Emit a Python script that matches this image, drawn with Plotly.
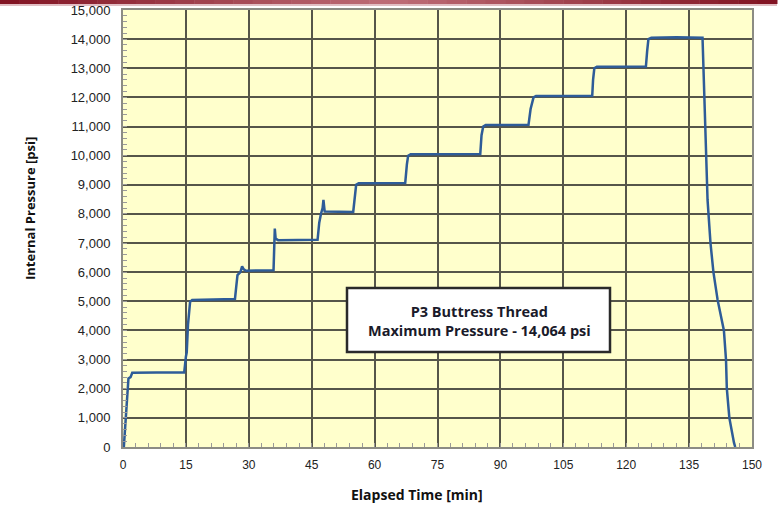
import plotly.graph_objects as go

# ---- data ----
time_min = [0.2, 0.6, 1.0, 1.3, 1.8, 2.2, 8.0, 14.6,
            15.0, 15.2, 15.5, 16.0, 16.5, 22.0, 26.7,
            27.0, 27.3, 28.0, 28.4, 28.8, 29.3, 35.9,
            36.1, 36.2, 36.4, 37.0, 46.4,
            46.8, 47.2, 47.6, 47.8, 48.1, 54.9,
            55.3, 55.6, 56.2, 67.3,
            67.7, 68.0, 68.6, 85.2,
            85.5, 85.9, 86.5, 96.7,
            97.2, 97.9, 98.5, 111.9,
            112.1, 112.4, 113.0, 124.7,
            125.0, 125.3, 126.0, 132.0, 138.2,
            138.6, 139.0, 139.4, 140.1, 140.8, 141.8, 142.6, 143.3,
            143.8, 144.0, 144.6, 145.2, 145.7, 146.0]
pressure_psi = [0, 1000, 2000, 2350, 2400, 2550, 2560, 2560,
                3100, 3250, 4200, 4980, 5050, 5070, 5080,
                5500, 5900, 6000, 6200, 6100, 6050, 6070,
                6800, 7500, 7150, 7100, 7110,
                7700, 8000, 8200, 8480, 8080, 8070,
                8700, 9000, 9050, 9060,
                9700, 10000, 10050, 10060,
                10700, 11000, 11050, 11060,
                11600, 12000, 12050, 12060,
                12600, 13000, 13050, 13060,
                13600, 14000, 14050, 14064, 14050,
                12000, 10000, 8480, 7000, 6000, 5050, 4500, 4000,
                3000, 2000, 1000, 500, 150, 0]

x_ticks = [0, 15, 30, 45, 60, 75, 90, 105, 120, 135, 150]
y_ticks = list(range(0, 15001, 1000))
y_tick_labels = [f"{v:,}" for v in y_ticks]

title_x = "Elapsed Time [min]"
title_y = "Internal Pressure [psi]"
box_text = "P3 Buttress Thread<br>Maximum Pressure - 14,064 psi"

# ---- figure ----
fig = go.Figure()
fig.add_trace(go.Scatter(x=time_min, y=pressure_psi, mode="lines",
                         line=dict(color="#2e5c98", width=2.5),
                         showlegend=False, hoverinfo="skip"))

grid_col = "#56564a"
frame_col = "#8c8c84"

fig.update_xaxes(range=[0, 150], tickvals=x_ticks, ticktext=[str(v) for v in x_ticks],
                 showgrid=True, gridcolor=grid_col, gridwidth=1.5,
                 showline=True, mirror=True, linecolor=frame_col, linewidth=2,
                 ticks="inside", ticklen=4, tickcolor="#999",
                 minor=dict(dtick=3, ticks="inside", ticklen=4, tickcolor="#999", showgrid=False),
                 tickfont=dict(family="Liberation Sans", size=12, color="#222"),
                 ticklabelstandoff=6,
                 zeroline=False, fixedrange=True, automargin=False)
fig.update_yaxes(range=[0, 15000], tickvals=y_ticks, ticktext=y_tick_labels,
                 showgrid=True, gridcolor=grid_col, gridwidth=1.5,
                 showline=True, mirror=True, linecolor=frame_col, linewidth=2,
                 ticks="inside", ticklen=4, tickcolor="#999",
                 minor=dict(dtick=200, ticks="inside", ticklen=4, tickcolor="#999", showgrid=False),
                 tickfont=dict(family="Liberation Sans", size=13, color="#222"),
                 ticklabelstandoff=8,
                 zeroline=False, fixedrange=True, automargin=False)

L, R, T, B = 123, 28, 10, 59
W, H = 780, 506
pw, ph = W - L - R, H - T - B

def px(xp):
    return (xp - L) / pw

def py(yp):
    return (H - B - yp) / ph

shapes = []
# maroon gradient bar across the top
n = 40
x_left, x_right = 0, 777
for i in range(n):
    f = i / (n - 1)
    d = abs(f - 0.5) * 2  # 1 at edges, 0 at center
    r = int(190 - 60 * d)
    g = int(110 - 90 * d)
    b = int(120 - 85 * d)
    xa = x_left + (x_right - x_left) * i / n
    xb = x_left + (x_right - x_left) * (i + 1) / n + 0.5
    shapes.append(dict(type="rect", xref="paper", yref="paper",
                       x0=px(xa), x1=px(xb), y0=py(4), y1=py(-1),
                       fillcolor=f"rgb({r},{g},{b})", line=dict(width=0), layer="above"))
shapes.append(dict(type="rect", xref="paper", yref="paper",
                   x0=px(x_left), x1=px(x_right), y0=py(6), y1=py(4),
                   fillcolor="rgb(225,190,195)", line=dict(width=0), layer="above"))
# annotation box
shapes.append(dict(type="rect", xref="paper", yref="paper",
                   x0=px(347), x1=px(610), y0=py(352), y1=py(288),
                   fillcolor="white", line=dict(color="#2a2a2a", width=2.5), layer="above"))

fig.update_layout(
    width=W, height=H,
    margin=dict(l=L, r=R, t=T, b=B, autoexpand=False),
    paper_bgcolor="white", plot_bgcolor="#ffffcc",
    shapes=shapes,
    annotations=[
        dict(text=box_text, xref="paper", yref="paper", x=px(479), y=py(321),
             showarrow=False, align="center", xanchor="center", yanchor="middle",
             font=dict(family="Open Sans", size=14.5, color="#1a1a2a", weight="bold")),
        dict(text=title_x, xref="paper", yref="paper", x=px(417), y=py(494),
             showarrow=False, xanchor="center", yanchor="middle",
             font=dict(family="Open Sans", size=14, color="#111", weight="bold")),
        dict(text=title_y, xref="paper", yref="paper", x=px(30), y=py(209),
             showarrow=False, xanchor="center", yanchor="middle", textangle=-90,
             font=dict(family="Open Sans", size=13, color="#111", weight="bold")),
    ],
)

fig.write_html("out.html", config={"displayModeBar": False},
               post_script="document.body.style.margin='0';document.body.style.overflow='hidden';")
